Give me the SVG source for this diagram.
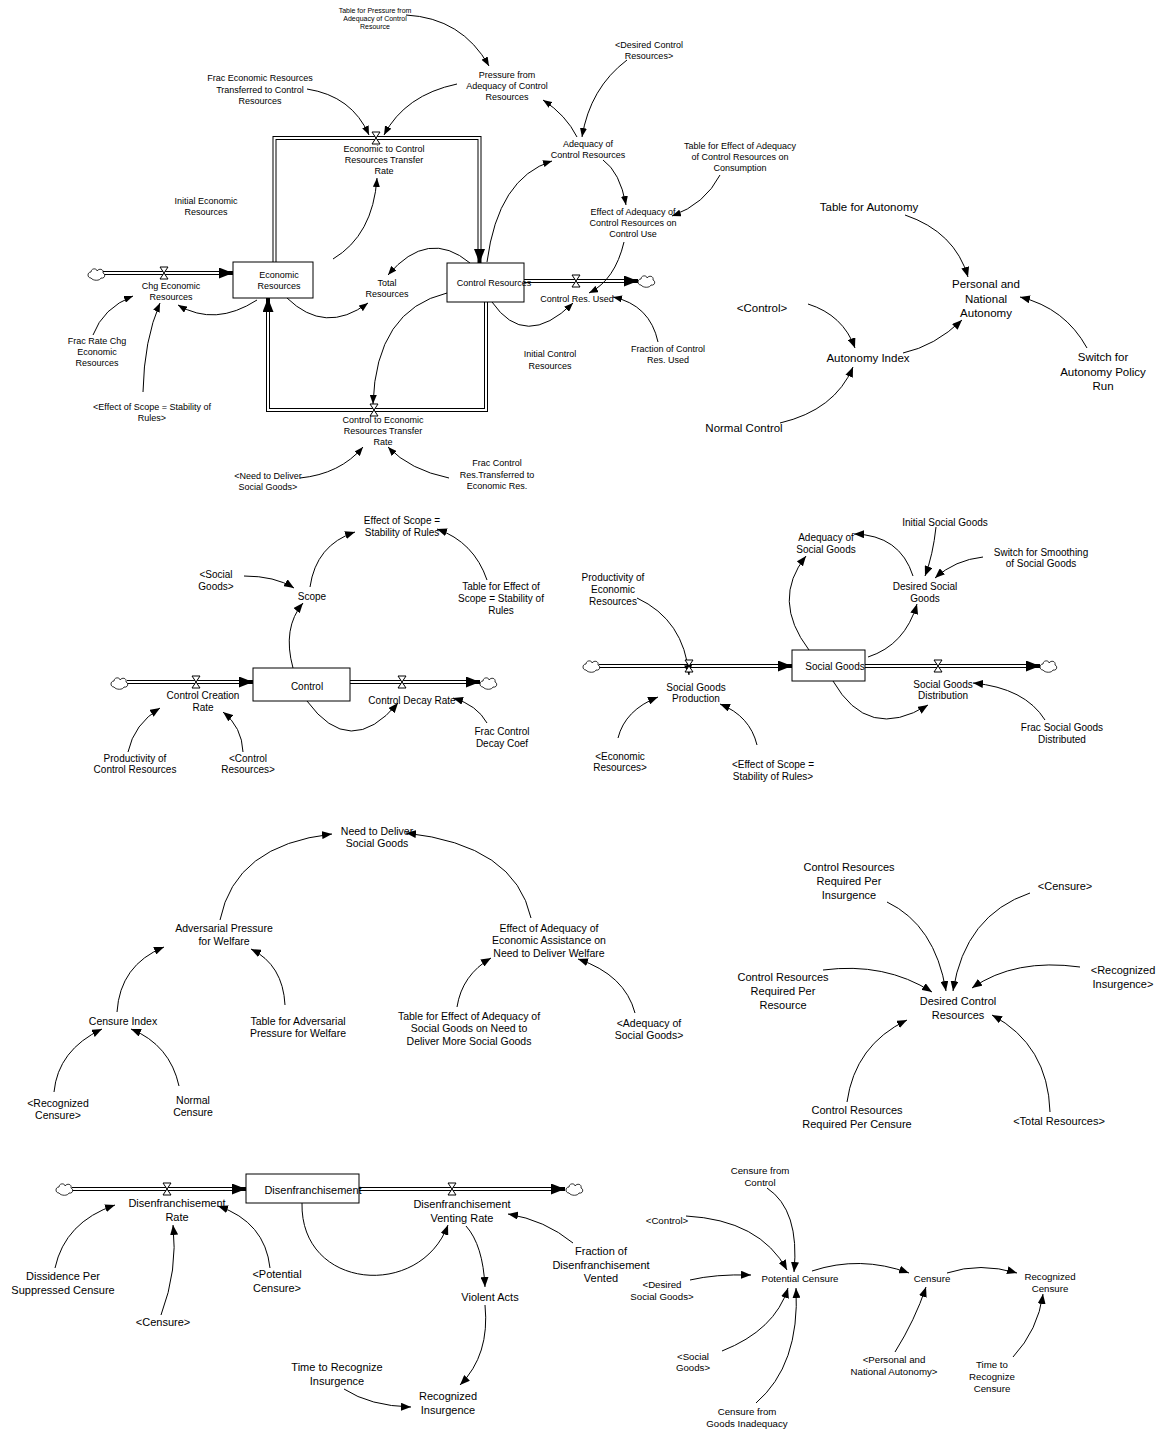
<svg xmlns="http://www.w3.org/2000/svg" xmlns:xlink="http://www.w3.org/1999/xlink" width="1162" height="1431" viewBox="0 0 1162 1431">
<style>
text{font-family:"Liberation Sans",Arial,sans-serif;fill:#000;text-anchor:middle}
.f7{font-size:7px}.f9{font-size:9px}.f97{font-size:9.7px}.f10{font-size:10px}.f105{font-size:10.5px}.f11{font-size:11px}.f115{font-size:11.5px}
.lk{fill:none;stroke:#000;stroke-width:1;marker-end:url(#ah)}
.lks{fill:none;stroke:#000;stroke-width:1;marker-end:url(#ahs)}
.po{fill:none;stroke:#000;stroke-width:4;marker-end:url(#fh)}
.pi{fill:none;stroke:#fff;stroke-width:2}
.stock{fill:#fff;stroke:#000;stroke-width:1}
.vl{fill:#fff;stroke:#000;stroke-width:1}
.cl{fill:#fff;stroke:#000;stroke-width:0.8}
</style>
<defs>
<marker id="ah" viewBox="0 0 10 8" refX="10" refY="4" markerWidth="10" markerHeight="8" markerUnits="userSpaceOnUse" orient="auto"><path d="M0,0 L10,4 L0,8 z" fill="#000"/></marker>
<marker id="ahs" viewBox="0 0 9 7" refX="9" refY="3.5" markerWidth="9" markerHeight="7" markerUnits="userSpaceOnUse" orient="auto"><path d="M0,0 L9,3.5 L0,7 z" fill="#000"/></marker>
<marker id="fh" viewBox="0 0 14 11" refX="14" refY="5.5" markerWidth="14" markerHeight="11" markerUnits="userSpaceOnUse" orient="auto"><path d="M0,0 L14,5.5 L0,11 z" fill="#000"/></marker>
<path id="cl" class="cl" d="M-5,4 C-9,4 -9,-2 -5,-2 C-5,-6 1,-6 1,-3 C3,-6 8,-5 7,-1 C10,0 9,5 5,4 C4,7 -3,7 -5,4 z"/>
<polygon id="vl" class="vl" points="-4,-6 4,-6 -4,6 4,6"/>
</defs>
<rect width="1162" height="1431" fill="#fff"/>

<g id="connectors">
<!-- flows -->
<path class="po" d="M103,273 L233,273"/><path class="pi" d="M103,273 L219,273"/>
<path class="po" d="M274.5,262 L274.5,138 L479.5,138 L479.5,263"/><path class="pi" d="M274.5,262 L274.5,138 L479.5,138 L479.5,249"/>
<path class="po" d="M524,281 L638,281"/><path class="pi" d="M524,281 L624,281"/>
<path class="po" d="M486,302 L486,410 L268,410 L268,298"/><path class="pi" d="M486,302 L486,410 L268,410 L268,312"/>
<path class="po" d="M127,682 L253,682"/><path class="pi" d="M127,682 L239,682"/>
<path class="po" d="M350,682 L480,682"/><path class="pi" d="M350,682 L466,682"/>
<path class="po" d="M599,666 L792,666"/><path class="pi" d="M599,666 L778,666"/>
<path class="po" d="M865,666 L1040,666"/><path class="pi" d="M865,666 L1026,666"/>
<path class="po" d="M72,1189 L246,1189"/><path class="pi" d="M72,1189 L232,1189"/>
<path class="po" d="M359,1189 L565,1189"/><path class="pi" d="M359,1189 L551,1189"/>
<!-- top links -->
<path class="lks" d="M406,15 Q462,18 489,66"/>
<path class="lks" d="M307,89 Q352,96 369,135"/>
<path class="lks" d="M457,84 Q405,95 384,135"/>
<path class="lks" d="M333,259 Q373,235 377,178"/>
<path class="lks" d="M627,60 Q590,88 582,137"/>
<path class="lks" d="M577,137 Q566,115 543,100"/>
<path class="lks" d="M603,160 Q620,172 626,205"/>
<path class="lks" d="M720,175 Q705,204 672,216"/>
<path class="lks" d="M487,262 Q498,178 552,161"/>
<path class="lks" d="M624,242 Q615,280 589,293"/>
<path class="lks" d="M658,342 Q650,305 613,297"/>
<path class="lks" d="M492,302 Q525,350 573,303"/>
<path class="lks" d="M470,263 Q428,228 388,275"/>
<path class="lks" d="M287,298 Q325,335 368,303"/>
<path class="lks" d="M257,300 Q215,327 178,305"/>
<path class="lks" d="M93,335 Q103,308 133,296"/>
<path class="lks" d="M143,392 Q144,340 160,303"/>
<path class="lks" d="M447,293 Q376,310 373,404"/>
<path class="lks" d="M300,478 Q340,474 363,447"/>
<path class="lks" d="M449,478 Q410,470 388,447"/>
<!-- autonomy -->
<path class="lk" d="M905,215 Q955,232 968,277"/>
<path class="lk" d="M808,304 Q843,315 855,348"/>
<path class="lk" d="M903,353 Q935,346 962,320"/>
<path class="lk" d="M1087,348 Q1065,308 1020,297"/>
<path class="lk" d="M780,423 Q835,410 853,367"/>
<!-- control -->
<path class="lk" d="M310,587 Q316,545 355,532"/>
<path class="lk" d="M244,576 Q275,576 294,588"/>
<path class="lk" d="M487,580 Q474,542 437,529"/>
<path class="lk" d="M293,668 Q282,628 303,603"/>
<path class="lk" d="M307,701 Q350,760 398,703"/>
<path class="lk" d="M487,723 Q477,705 453,698"/>
<path class="lk" d="M128,752 Q134,724 160,708"/>
<path class="lk" d="M243,752 Q242,727 223,712"/>
<!-- social goods -->
<path class="lk" d="M637,598 Q684,620 689,675"/>
<path class="lk" d="M618,738 Q625,710 658,697"/>
<path class="lk" d="M757,745 Q750,716 720,704"/>
<path class="lk" d="M809,650 Q771,600 806,556"/>
<path class="lk" d="M913,576 Q900,535 854,534"/>
<path class="lk" d="M936,527 Q933,555 925,576"/>
<path class="lk" d="M983,557 Q955,560 935,578"/>
<path class="lk" d="M868,657 Q905,645 917,604"/>
<path class="lk" d="M833,681 Q868,742 928,705"/>
<path class="lk" d="M1045,720 Q1025,688 973,683"/>
<!-- need to deliver -->
<path class="lk" d="M220,920 Q235,845 332,834"/>
<path class="lk" d="M531,918 Q515,845 406,833"/>
<path class="lk" d="M117,1012 Q120,965 164,947"/>
<path class="lk" d="M285,1005 Q283,965 251,949"/>
<path class="lk" d="M457,1007 Q462,975 491,958"/>
<path class="lk" d="M635,1013 Q625,975 578,959"/>
<path class="lk" d="M54,1092 Q58,1050 102,1029"/>
<path class="lk" d="M179,1086 Q170,1045 131,1029"/>
<!-- desired control resources -->
<path class="lk" d="M887,902 Q935,925 946,991"/>
<path class="lk" d="M1030,893 Q965,915 953,991"/>
<path class="lk" d="M1080,967 Q1015,958 972,988"/>
<path class="lk" d="M823,970 Q885,962 932,992"/>
<path class="lk" d="M847,1102 Q855,1045 907,1020"/>
<path class="lk" d="M1050,1112 Q1048,1045 992,1015"/>
<!-- disenfranchisement -->
<path class="lk" d="M302,1203 C300,1290 420,1300 448,1225"/>
<path class="lk" d="M573,1243 Q545,1220 508,1214"/>
<path class="lk" d="M466,1226 Q483,1245 485,1287"/>
<path class="lk" d="M485,1305 Q490,1355 460,1385"/>
<path class="lk" d="M344,1389 Q370,1406 411,1407"/>
<path class="lk" d="M55,1268 Q65,1222 115,1205"/>
<path class="lk" d="M161,1315 Q178,1270 173,1225"/>
<path class="lk" d="M270,1268 Q265,1222 218,1206"/>
<!-- censure -->
<path class="lk" d="M767,1188 Q800,1210 794,1272"/>
<path class="lk" d="M686,1216 Q760,1220 787,1270"/>
<path class="lk" d="M690,1280 Q715,1274 751,1275"/>
<path class="lk" d="M722,1351 Q775,1330 788,1288"/>
<path class="lk" d="M756,1403 Q800,1365 796,1288"/>
<path class="lk" d="M812,1271 Q860,1255 909,1273"/>
<path class="lk" d="M947,1273 Q980,1262 1017,1273"/>
<path class="lk" d="M895,1352 Q915,1320 926,1287"/>
<path class="lk" d="M1013,1357 Q1038,1330 1043,1294"/>
</g>

<g id="clouds">
<use href="#cl" x="96" y="274"/><use href="#cl" x="646" y="281"/>
<use href="#cl" x="119" y="683"/><use href="#cl" x="488" y="683"/>
<use href="#cl" x="591" y="666"/><use href="#cl" x="1048" y="666"/>
<use href="#cl" x="64" y="1189"/><use href="#cl" x="574" y="1189"/>
</g>

<!-- top section -->
<g id="table-pressure"><text class="f7" x="375" y="13"><tspan x="375">Table for Pressure from</tspan><tspan x="375" dy="8">Adequacy of Control</tspan><tspan x="375" dy="8">Resource</tspan></text></g>
<g id="pressure"><text class="f9" x="507" y="78"><tspan x="507">Pressure from</tspan><tspan x="507" dy="11">Adequacy of Control</tspan><tspan x="507" dy="11">Resources</tspan></text></g>
<g id="frac-econ-transfer"><text class="f9" x="260" y="81"><tspan x="260">Frac Economic Resources</tspan><tspan x="260" dy="11.5">Transferred to Control</tspan><tspan x="260" dy="11.5">Resources</tspan></text></g>
<g id="econ-to-control-rate"><use href="#vl" x="376" y="138"/><text class="f9" x="384" y="152"><tspan x="384">Economic to Control</tspan><tspan x="384" dy="11">Resources Transfer</tspan><tspan x="384" dy="11">Rate</tspan></text></g>
<g id="initial-econ"><text class="f9" x="206" y="204"><tspan x="206">Initial Economic</tspan><tspan x="206" dy="11">Resources</tspan></text></g>
<g id="desired-control-ref"><text class="f9" x="649" y="48"><tspan x="649">&lt;Desired Control</tspan><tspan x="649" dy="11">Resources&gt;</tspan></text></g>
<g id="adequacy-control"><text class="f9" x="588" y="147"><tspan x="588">Adequacy of</tspan><tspan x="588" dy="11">Control Resources</tspan></text></g>
<g id="effect-adequacy-control"><text class="f9" x="633" y="215"><tspan x="633">Effect of Adequacy of</tspan><tspan x="633" dy="11">Control Resources on</tspan><tspan x="633" dy="11">Control Use</tspan></text></g>
<g id="table-effect-adequacy"><text class="f9" x="740" y="149"><tspan x="740">Table for Effect of Adequacy</tspan><tspan x="740" dy="11">of Control Resources on</tspan><tspan x="740" dy="11">Consumption</tspan></text></g>
<g id="economic-resources"><rect class="stock" x="233" y="262" width="80" height="36"/><text class="f9" x="279" y="278"><tspan x="279">Economic</tspan><tspan x="279" dy="11">Resources</tspan></text></g>
<g id="chg-econ"><use href="#vl" x="164" y="273"/><text class="f9" x="171" y="289"><tspan x="171">Chg Economic</tspan><tspan x="171" dy="11">Resources</tspan></text></g>
<g id="total-resources"><text class="f9" x="387" y="286"><tspan x="387">Total</tspan><tspan x="387" dy="11">Resources</tspan></text></g>
<g id="control-resources"><rect class="stock" x="447" y="263" width="77" height="39"/><text class="f9" x="494" y="286">Control Resources</text></g>
<g id="control-res-used"><use href="#vl" x="576" y="281"/><text class="f9" x="577" y="302">Control Res. Used</text></g>
<g id="initial-control"><text class="f9" x="550" y="357"><tspan x="550">Initial Control</tspan><tspan x="550" dy="11.5">Resources</tspan></text></g>
<g id="fraction-control-used"><text class="f9" x="668" y="352"><tspan x="668">Fraction of Control</tspan><tspan x="668" dy="11">Res. Used</tspan></text></g>
<g id="frac-rate-chg"><text class="f9" x="97" y="344"><tspan x="97">Frac Rate Chg</tspan><tspan x="97" dy="11">Economic</tspan><tspan x="97" dy="11">Resources</tspan></text></g>
<g id="effect-scope-ref1"><text class="f9" x="152" y="410"><tspan x="152">&lt;Effect of Scope = Stability of</tspan><tspan x="152" dy="11">Rules&gt;</tspan></text></g>
<g id="control-to-econ-rate"><use href="#vl" x="374" y="410"/><text class="f9" x="383" y="423"><tspan x="383">Control to Economic</tspan><tspan x="383" dy="11">Resources Transfer</tspan><tspan x="383" dy="11">Rate</tspan></text></g>
<g id="need-deliver-ref"><text class="f9" x="268" y="479"><tspan x="268">&lt;Need to Deliver</tspan><tspan x="268" dy="11">Social Goods&gt;</tspan></text></g>
<g id="frac-control-transfer"><text class="f9" x="497" y="466"><tspan x="497">Frac Control</tspan><tspan x="497" dy="11.5">Res.Transferred to</tspan><tspan x="497" dy="11.5">Economic Res.</tspan></text></g>

<!-- autonomy -->
<g id="table-autonomy"><text class="f115" x="869" y="211">Table for Autonomy</text></g>
<g id="personal-national-autonomy"><text class="f115" x="986" y="288"><tspan x="986">Personal and</tspan><tspan x="986" dy="14.5">National</tspan><tspan x="986" dy="14.5">Autonomy</tspan></text></g>
<g id="control-ref1"><text class="f115" x="762" y="312">&lt;Control&gt;</text></g>
<g id="autonomy-index"><text class="f115" x="868" y="362">Autonomy Index</text></g>
<g id="switch-autonomy"><text class="f115" x="1103" y="361"><tspan x="1103">Switch for</tspan><tspan x="1103" dy="14.5">Autonomy Policy</tspan><tspan x="1103" dy="14.5">Run</tspan></text></g>
<g id="normal-control"><text class="f115" x="744" y="432">Normal Control</text></g>

<!-- control section -->
<g id="effect-scope"><text class="f10" x="402" y="523.5"><tspan x="402">Effect of Scope =</tspan><tspan x="402" dy="12">Stability of Rules</tspan></text></g>
<g id="social-goods-ref1"><text class="f10" x="216" y="577.5"><tspan x="216">&lt;Social</tspan><tspan x="216" dy="12">Goods&gt;</tspan></text></g>
<g id="scope"><text class="f10" x="312" y="599.5">Scope</text></g>
<g id="table-effect-scope"><text class="f10" x="501" y="589.5"><tspan x="501">Table for Effect of</tspan><tspan x="501" dy="12">Scope = Stability of</tspan><tspan x="501" dy="12">Rules</tspan></text></g>
<g id="control"><rect class="stock" x="253" y="668" width="97" height="33"/><text class="f10" x="307" y="689.5">Control</text></g>
<g id="control-creation-rate"><use href="#vl" x="196" y="682"/><text class="f10" x="203" y="698.5"><tspan x="203">Control Creation</tspan><tspan x="203" dy="12">Rate</tspan></text></g>
<g id="control-decay-rate"><use href="#vl" x="402" y="682"/><text class="f10" x="412" y="703.5">Control Decay Rate</text></g>
<g id="frac-control-decay"><text class="f10" x="502" y="734.5"><tspan x="502">Frac Control</tspan><tspan x="502" dy="12">Decay Coef</tspan></text></g>
<g id="productivity-control"><text class="f10" x="135" y="761.5"><tspan x="135">Productivity of</tspan><tspan x="135" dy="11.5">Control Resources</tspan></text></g>
<g id="control-resources-ref"><text class="f10" x="248" y="761.5"><tspan x="248">&lt;Control</tspan><tspan x="248" dy="11.5">Resources&gt;</tspan></text></g>

<!-- social goods section -->
<g id="social-goods"><rect class="stock" x="792" y="650" width="73" height="31"/><text class="f10" x="835" y="669.5">Social Goods</text></g>
<g id="social-goods-production"><use href="#vl" x="689" y="666"/><text class="f10" x="696" y="690.5"><tspan x="696">Social Goods</tspan><tspan x="696" dy="11.5">Production</tspan></text></g>
<g id="productivity-econ"><text class="f10" x="613" y="580.5"><tspan x="613">Productivity of</tspan><tspan x="613" dy="12">Economic</tspan><tspan x="613" dy="12">Resources</tspan></text></g>
<g id="econ-res-ref"><text class="f10" x="620" y="759.5"><tspan x="620">&lt;Economic</tspan><tspan x="620" dy="11.5">Resources&gt;</tspan></text></g>
<g id="effect-scope-ref2"><text class="f10" x="773" y="767.5"><tspan x="773">&lt;Effect of Scope =</tspan><tspan x="773" dy="12">Stability of Rules&gt;</tspan></text></g>
<g id="adequacy-social-goods"><text class="f10" x="826" y="540.5"><tspan x="826">Adequacy of</tspan><tspan x="826" dy="12">Social Goods</tspan></text></g>
<g id="initial-social-goods"><text class="f10" x="945" y="525.5">Initial Social Goods</text></g>
<g id="desired-social-goods"><text class="f10" x="925" y="589.5"><tspan x="925">Desired Social</tspan><tspan x="925" dy="12">Goods</tspan></text></g>
<g id="switch-smoothing"><text class="f10" x="1041" y="555.5"><tspan x="1041">Switch for Smoothing</tspan><tspan x="1041" dy="11.5">of Social Goods</tspan></text></g>
<g id="social-goods-distribution"><use href="#vl" x="938" y="666"/><text class="f10" x="943" y="687.5"><tspan x="943">Social Goods</tspan><tspan x="943" dy="11.5">Distribution</tspan></text></g>
<g id="frac-social-goods"><text class="f10" x="1062" y="730.5"><tspan x="1062">Frac Social Goods</tspan><tspan x="1062" dy="12">Distributed</tspan></text></g>

<!-- need to deliver section -->
<g id="need-deliver"><text class="f105" x="377" y="834.5"><tspan x="377">Need to Deliver</tspan><tspan x="377" dy="12.5">Social Goods</tspan></text></g>
<g id="adversarial-pressure"><text class="f105" x="224" y="931.5"><tspan x="224">Adversarial Pressure</tspan><tspan x="224" dy="13">for Welfare</tspan></text></g>
<g id="effect-adequacy-econ"><text class="f105" x="549" y="931.5"><tspan x="549">Effect of Adequacy of</tspan><tspan x="549" dy="12.5">Economic Assistance on</tspan><tspan x="549" dy="12.5">Need to Deliver Welfare</tspan></text></g>
<g id="censure-index"><text class="f105" x="123" y="1024.5">Censure Index</text></g>
<g id="table-adversarial"><text class="f105" x="298" y="1024.5"><tspan x="298">Table for Adversarial</tspan><tspan x="298" dy="12.5">Pressure for Welfare</tspan></text></g>
<g id="table-effect-sg"><text class="f105" x="469" y="1019.5"><tspan x="469">Table for Effect of Adequacy of</tspan><tspan x="469" dy="12.5">Social Goods on Need to</tspan><tspan x="469" dy="12.5">Deliver More Social Goods</tspan></text></g>
<g id="adequacy-sg-ref"><text class="f105" x="649" y="1026.5"><tspan x="649">&lt;Adequacy of</tspan><tspan x="649" dy="12.5">Social Goods&gt;</tspan></text></g>
<g id="recognized-censure-ref"><text class="f105" x="58" y="1106.5"><tspan x="58">&lt;Recognized</tspan><tspan x="58" dy="12">Censure&gt;</tspan></text></g>
<g id="normal-censure"><text class="f105" x="193" y="1103.5"><tspan x="193">Normal</tspan><tspan x="193" dy="12.5">Censure</tspan></text></g>

<!-- desired control resources -->
<g id="crr-insurgence"><text class="f11" x="849" y="871"><tspan x="849">Control Resources</tspan><tspan x="849" dy="14">Required Per</tspan><tspan x="849" dy="14">Insurgence</tspan></text></g>
<g id="censure-ref1"><text class="f11" x="1065" y="890">&lt;Censure&gt;</text></g>
<g id="recognized-insurgence-ref"><text class="f11" x="1123" y="974"><tspan x="1123">&lt;Recognized</tspan><tspan x="1123" dy="14">Insurgence&gt;</tspan></text></g>
<g id="crr-resource"><text class="f11" x="783" y="981"><tspan x="783">Control Resources</tspan><tspan x="783" dy="14">Required Per</tspan><tspan x="783" dy="14">Resource</tspan></text></g>
<g id="desired-control-resources"><text class="f11" x="958" y="1005"><tspan x="958">Desired Control</tspan><tspan x="958" dy="13.5">Resources</tspan></text></g>
<g id="crr-censure"><text class="f11" x="857" y="1114"><tspan x="857">Control Resources</tspan><tspan x="857" dy="14">Required Per Censure</tspan></text></g>
<g id="total-resources-ref"><text class="f11" x="1059" y="1125">&lt;Total Resources&gt;</text></g>

<!-- disenfranchisement -->
<g id="disenfranchisement"><rect class="stock" x="246" y="1174" width="113" height="29"/><text class="f11" x="313" y="1194">Disenfranchisement</text></g>
<g id="disenfranchisement-rate"><use href="#vl" x="167" y="1189"/><text class="f11" x="177" y="1207"><tspan x="177">Disenfranchisement</tspan><tspan x="177" dy="13.5">Rate</tspan></text></g>
<g id="venting-rate"><use href="#vl" x="452" y="1189"/><text class="f11" x="462" y="1208"><tspan x="462">Disenfranchisement</tspan><tspan x="462" dy="14">Venting Rate</tspan></text></g>
<g id="fraction-vented"><text class="f11" x="601" y="1255"><tspan x="601">Fraction of</tspan><tspan x="601" dy="13.5">Disenfranchisement</tspan><tspan x="601" dy="13.5">Vented</tspan></text></g>
<g id="violent-acts"><text class="f11" x="490" y="1301">Violent Acts</text></g>
<g id="time-recognize-insurgence"><text class="f11" x="337" y="1371"><tspan x="337">Time to Recognize</tspan><tspan x="337" dy="14">Insurgence</tspan></text></g>
<g id="recognized-insurgence"><text class="f11" x="448" y="1400"><tspan x="448">Recognized</tspan><tspan x="448" dy="13.5">Insurgence</tspan></text></g>
<g id="dissidence"><text class="f11" x="63" y="1280"><tspan x="63">Dissidence Per</tspan><tspan x="63" dy="14">Suppressed Censure</tspan></text></g>
<g id="censure-ref2"><text class="f11" x="163" y="1326">&lt;Censure&gt;</text></g>
<g id="potential-censure-ref"><text class="f11" x="277" y="1278"><tspan x="277">&lt;Potential</tspan><tspan x="277" dy="14">Censure&gt;</tspan></text></g>

<!-- censure -->
<g id="censure-from-control"><text class="f97" x="760" y="1173.5"><tspan x="760">Censure from</tspan><tspan x="760" dy="12">Control</tspan></text></g>
<g id="control-ref2"><text class="f97" x="667" y="1223.5">&lt;Control&gt;</text></g>
<g id="desired-sg-ref"><text class="f97" x="662" y="1287.5"><tspan x="662">&lt;Desired</tspan><tspan x="662" dy="12">Social Goods&gt;</tspan></text></g>
<g id="potential-censure"><text class="f97" x="800" y="1281.5">Potential Censure</text></g>
<g id="social-goods-ref2"><text class="f97" x="693" y="1359.5"><tspan x="693">&lt;Social</tspan><tspan x="693" dy="11">Goods&gt;</tspan></text></g>
<g id="censure-goods-inadequacy"><text class="f97" x="747" y="1414.5"><tspan x="747">Censure from</tspan><tspan x="747" dy="12">Goods Inadequacy</tspan></text></g>
<g id="censure"><text class="f97" x="932" y="1281.5">Censure</text></g>
<g id="recognized-censure"><text class="f97" x="1050" y="1279.5"><tspan x="1050">Recognized</tspan><tspan x="1050" dy="12">Censure</tspan></text></g>
<g id="pna-ref"><text class="f97" x="894" y="1362.5"><tspan x="894">&lt;Personal and</tspan><tspan x="894" dy="12">National Autonomy&gt;</tspan></text></g>
<g id="time-recognize-censure"><text class="f97" x="992" y="1367.5"><tspan x="992">Time to</tspan><tspan x="992" dy="12">Recognize</tspan><tspan x="992" dy="12">Censure</tspan></text></g>
</svg>
